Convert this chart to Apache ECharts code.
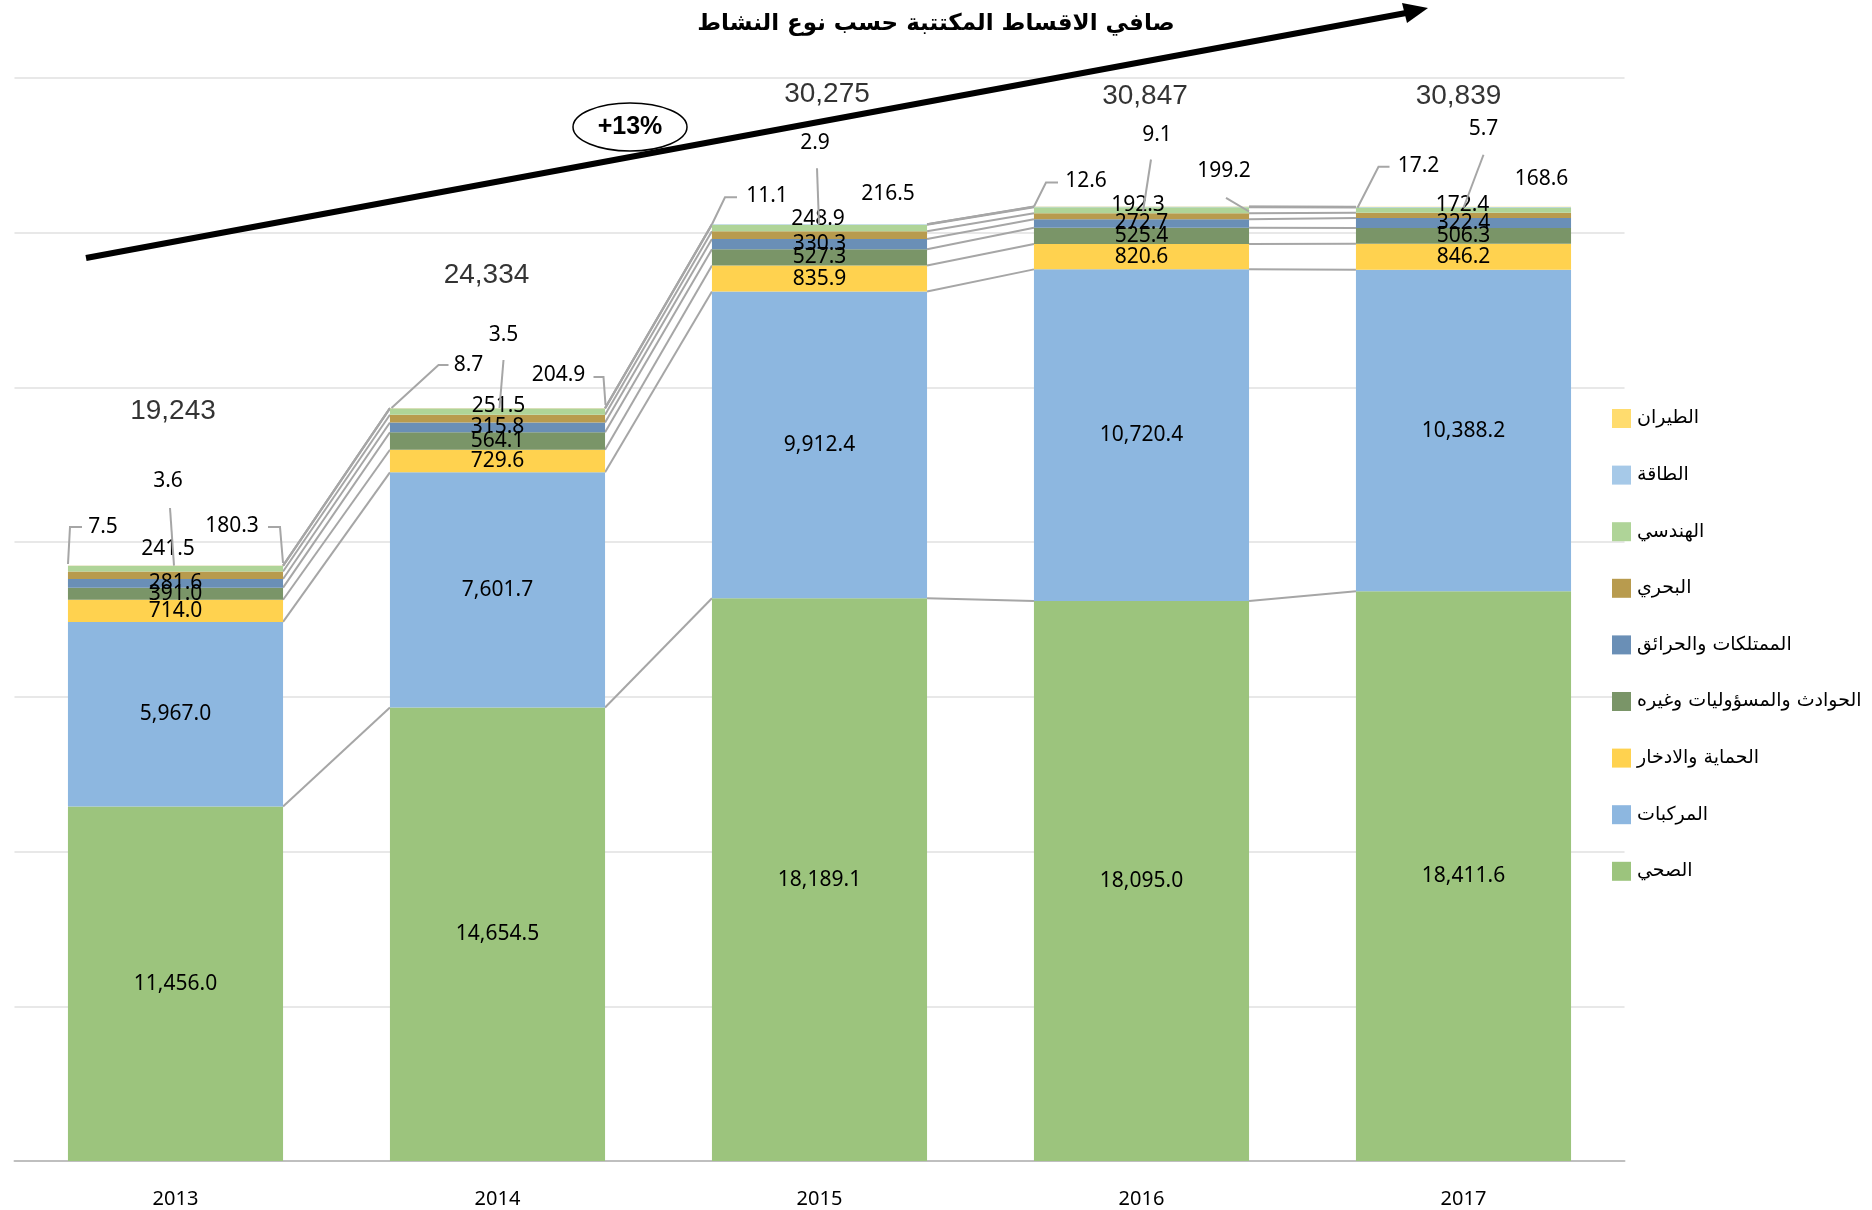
<!DOCTYPE html>
<html>
<head>
<meta charset="utf-8">
<script src="https://cdn.jsdelivr.net/npm/echarts@6/dist/echarts.min.js"></script>
<style>
html,body{margin:0;padding:0;background:#fff;}
#chart{width:1872px;height:1210px;}
</style>
</head>
<body>
<div id="chart"></div>
<script>
// ---------- data ----------
const years = ['2013', '2014', '2015', '2016', '2017'];
const health = [11456.0, 14654.5, 18189.1, 18095.0, 18411.6];
const motor = [5967.0, 7601.7, 9912.4, 10720.4, 10388.2];
const protection = [714.0, 729.6, 835.9, 820.6, 846.2];
const accidents = [391.0, 564.1, 527.3, 525.4, 506.3];
const property = [281.6, 315.8, 330.3, 272.7, 322.4];
const marine = [241.5, 251.5, 248.9, 192.3, 172.4];
const engineering = [180.3, 204.9, 216.5, 199.2, 168.6];
const energy = [7.5, 8.7, 11.1, 12.6, 17.2];
const aviation = [3.6, 3.5, 2.9, 9.1, 5.7];
const totals = [19243, 24334, 30275, 30847, 30839];

const names = {
  health: 'الصحي',
  motor: 'المركبات',
  protection: 'الحماية والادخار',
  accidents: 'الحوادث والمسؤوليات وغيره',
  property: 'الممتلكات والحرائق',
  marine: 'البحري',
  engineering: 'الهندسي',
  energy: 'الطاقة',
  aviation: 'الطيران'
};
const titleText = 'صافي الاقساط المكتتبة حسب نوع النشاط';
const growthText = '+13%';

// ---------- styles / positions (not data) ----------
const colors = {
  health: '#9CC47D',
  motor: '#8DB7E0',
  protection: '#FFD24F',
  accidents: '#7A9568',
  property: '#6A8FB6',
  marine: '#B89B4E',
  engineering: '#AFD498',
  energy: '#A6C9E8',
  aviation: '#FFDC6E'
};
const BAR_RATIO = 0.668;
// label offsets (dx from bar centre, dy from bar top) for the small series
const labelOffsets = {
  energy: [[-72.5, -38.5], [-29, -43], [-52.5, -28], [-55.5, -25], [-45, -41]],
  aviation: [[-7.5, -84.6], [6, -73], [-4.5, -81], [15.5, -71], [20, -78]],
  engineering: [[56.5, -39.6], [61, -33], [68.5, -30], [82.5, -35], [78, -28]],
  marine: [[-7.5, -16.6], [1, -2], [-1.5, -5], [-3.5, -1.6], [-1, -2]]
};
// leader-line paths (pixel offsets from bar centre / bar top)
const leaderPaths = [
  [[-107.5, -1.6], [-105.5, -38.6], [-93.5, -38.6]],
  [[-5.5, -57.6], [-1.5, 0]],
  [[107.5, -2.6], [104.5, -38.6], [92.5, -38.6]],
  [[-49, -43], [-59, -43], [-106, 0]],
  [[6, -48], [2, 0]],
  [[96, -31], [106, -31], [108, -3]],
  [[-82.5, -27], [-94.5, -27], [-107.5, 0]],
  [[-2.5, -56], [-0.5, 0]],
  [[-83.5, -24], [-95.5, -24], [-107.5, 0]],
  [[9.5, -47], [1.5, 5]],
  [[84.5, -8.6], [107.5, 5]],
  [[-74, -40], [-85, -40], [-106, 1]],
  [[20, -52], [0, 1]]
];
const leaderYear = [0, 0, 0, 1, 1, 1, 2, 2, 3, 3, 3, 4, 4];
const totalOffsets = [[-2.5, -154.6], [-11, -133], [7.5, -130], [3.5, -110.6], [-5, -110.8]];

const stackOrder = ['health', 'motor', 'protection', 'accidents', 'property', 'marine', 'engineering', 'energy', 'aviation'];
const values = { health, motor, protection, accidents, property, marine, engineering, energy, aviation };

const numFont = 'Noto Sans';
const fmt1 = v => Number(v).toLocaleString('en-US', { minimumFractionDigits: 1, maximumFractionDigits: 1 });

function aboveOf(key) {
  const idx = stackOrder.indexOf(key);
  return years.map((_, i) => {
    let s = 0;
    for (let k = idx + 1; k < stackOrder.length; k++) s += values[stackOrder[k]][i];
    return s;
  });
}
const stackSum = years.map((_, i) => stackOrder.reduce((s, k) => s + values[k][i], 0));

const barSeries = stackOrder.map(key => {
  const s = {
    name: names[key],
    type: 'bar',
    stack: 'total',
    barWidth: (BAR_RATIO * 100) + '%',
    data: values[key],
    itemStyle: { color: colors[key] },
    emphasis: { disabled: true },
    label: {
      show: true,
      position: 'inside',
      color: '#000',
      fontFamily: numFont,
      fontSize: 21,
      formatter: p => fmt1(p.value)
    },
    z: 2
  };
  if (labelOffsets[key]) {
    const off = labelOffsets[key];
    const above = aboveOf(key);
    const vals = values[key];
    s.labelLayout = function (params) {
      const i = params.dataIndex;
      const r = params.rect;
      const ppu = vals[i] ? r.height / vals[i] : 0;
      const top = r.y - above[i] * ppu;
      return {
        x: r.x + r.width / 2 + off[i][0],
        y: top + off[i][1],
        align: 'center',
        verticalAlign: 'middle'
      };
    };
  }
  return s;
});

// connector lines between bars, one per stack level
const connectorData = [];
{
  const cum = years.map(() => 0);
  stackOrder.forEach(key => {
    const level = years.map((_, i) => (cum[i] += values[key][i]));
    for (let i = 0; i < years.length - 1; i++) {
      connectorData.push([i, i + 1, level[i], level[i + 1]]);
    }
  });
}
const leaderData = leaderYear.map(i => [i, stackSum[i]]);

const option = {
  backgroundColor: '#fff',
  animation: false,
  title: {
    text: titleText,
    left: 'center',
    top: 8,
    textStyle: { fontFamily: 'DejaVu Sans', fontWeight: 'bold', fontSize: 23, color: '#000' }
  },
  legend: {
    orient: 'vertical',
    left: 1612,
    top: 409,
    padding: 0,
    itemWidth: 19,
    itemHeight: 19,
    itemGap: 37.6,
    icon: 'rect',
    data: stackOrder.slice().reverse().map(k => names[k]),
    textStyle: { fontFamily: 'DejaVu Sans', fontSize: 19, color: '#000', lineHeight: 19, padding: [0, 0, 0, 1] },
    selectedMode: false
  },
  grid: { left: 14.5, right: 247.5, top: 78, bottom: 49, containLabel: false },
  xAxis: {
    type: 'category',
    data: years,
    axisLine: { lineStyle: { color: '#bfbfbf', width: 2 } },
    axisTick: { show: false },
    axisLabel: { color: '#000', fontFamily: numFont, fontSize: 20, margin: 28 }
  },
  yAxis: {
    type: 'value',
    min: 0,
    max: 35000,
    interval: 5000,
    axisLabel: { show: false },
    axisLine: { show: false },
    axisTick: { show: false },
    splitLine: { lineStyle: { color: '#e8e8e8', width: 2 } }
  },
  series: [
    {
      name: 'connectors',
      type: 'custom',
      data: connectorData,
      encode: { x: [0, 1], y: [2, 3] },
      silent: true,
      z: 1,
      renderItem: function (params, api) {
        const p1 = api.coord([api.value(0), api.value(2)]);
        const p2 = api.coord([api.value(1), api.value(3)]);
        const half = api.size([1, 0])[0] * BAR_RATIO / 2;
        return {
          type: 'line',
          shape: { x1: p1[0] + half, y1: p1[1], x2: p2[0] - half, y2: p2[1] },
          style: { stroke: '#a6a6a6', lineWidth: 2 }
        };
      }
    },
    {
      name: 'leaders',
      type: 'custom',
      data: leaderData,
      encode: { x: 0, y: 1 },
      silent: true,
      z: 4,
      renderItem: function (params, api) {
        const base = api.coord([api.value(0), api.value(1)]);
        const pts = leaderPaths[params.dataIndex].map(p => [base[0] + p[0], base[1] + p[1]]);
        return {
          type: 'polyline',
          shape: { points: pts },
          style: { stroke: '#a6a6a6', lineWidth: 2, fill: null }
        };
      }
    },
    ...barSeries,
    {
      name: 'totals',
      type: 'scatter',
      data: totals,
      symbolSize: 1,
      itemStyle: { color: 'rgba(0,0,0,0)' },
      silent: true,
      z: 5,
      label: {
        show: true,
        position: 'inside',
        color: '#000',
        fontFamily: 'Liberation Sans',
        fontSize: 28,
        formatter: p => Number(p.value).toLocaleString('en-US')
      },
      labelLayout: function (params) {
        const o = totalOffsets[params.dataIndex];
        return { dx: o[0], dy: o[1] };
      }
    }
  ],
  graphic: [
    {
      type: 'line',
      shape: { x1: 86, y1: 258, x2: 1406, y2: 13 },
      style: { stroke: '#000', lineWidth: 6 },
      z: 10
    },
    {
      type: 'polygon',
      shape: { points: [[1428, 8], [1407, 23], [1402, 3]] },
      style: { fill: '#000' },
      z: 10
    },
    {
      type: 'ellipse',
      shape: { cx: 630, cy: 127, rx: 57, ry: 24 },
      style: { fill: 'rgba(255,255,255,0)', stroke: '#000', lineWidth: 1.5 },
      z: 10
    },
    {
      type: 'text',
      x: 630,
      y: 127,
      style: {
        text: growthText,
        fill: '#000',
        font: 'bold 25px "Liberation Sans"',
        align: 'center',
        verticalAlign: 'middle'
      },
      z: 11
    }
  ]
};

const chart = echarts.init(document.getElementById('chart'), null, { renderer: 'canvas' });
chart.setOption(option);
</script>
</body>
</html>
